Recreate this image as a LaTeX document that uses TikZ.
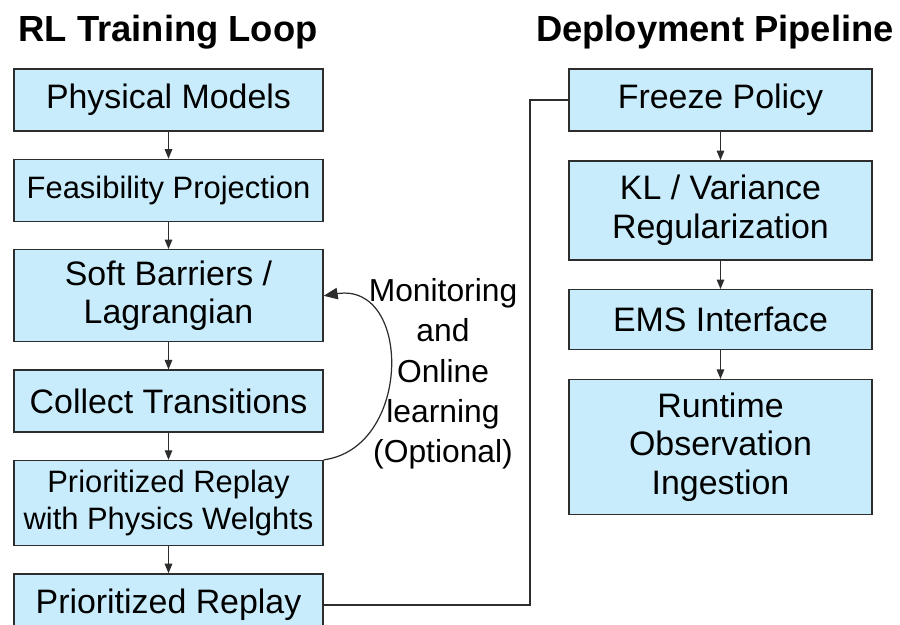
\documentclass[tikz,border=0pt]{standalone}
\usepackage{fontspec}
\setmainfont{Liberation Sans}
\usepackage{tikz}
\usetikzlibrary{arrows.meta, positioning}
\definecolor{boxblue}{RGB}{200,236,251}
\definecolor{edgegray}{RGB}{45,45,45}

\begin{document}
\begin{tikzpicture}[
    x=0.02cm, y=-0.02cm,
    node distance=0.54cm,
    box/.style={rectangle, draw=edgegray, line width=0.8pt, fill=boxblue,
                minimum width=6.18cm, minimum height=1.24cm, inner sep=2pt,
                align=center, font=\fontsize{19.3}{22}\selectfont},
    rbox/.style={box, minimum width=6.06cm},
    smalltext/.style={font=\fontsize{17.6}{21.5}\selectfont},
    title/.style={anchor=base, font=\fontsize{20.7}{24}\selectfont\bfseries},
    note/.style={align=center, font=\fontsize{18.1}{22.9}\selectfont},
    arr/.style={-{Triangle[length=0.19cm, width=0.15cm]}, line width=0.7pt, edgegray},
    loopback/.style={-{Triangle[length=0.28cm, width=0.23cm]}, line width=0.7pt, edgegray},
    link/.style={line width=0.7pt, edgegray},
]
\useasboundingbox (0,0) rectangle (900,625);
\clip (0,0) rectangle (900,625);

\node[title] (lt) at (168,42) {RL Training Loop};
\node[title] (rt) at (715,42) {Deployment Pipeline};

\node[box] (phys) at (168.5,100) {Physical Models};
\node[box, smalltext, below=of phys] (feas) {Feasibility Projection};
\node[box, below=of feas, minimum height=1.84cm] (soft) {Soft Barriers /\\Lagrangian};
\node[box, below=of soft] (coll) {Collect Transitions};
\node[box, smalltext, below=of coll, minimum height=1.7cm] (prw) {Prioritized Replay\\with Physics Welghts};
\node[box, below=of prw] (prio) {Prioritized Replay};

\node[rbox] (freeze) at (720.5,100) {Freeze Policy};
\node[rbox, below=0.57cm of freeze, minimum height=1.98cm] (kl) {KL / Variance\\Regularization};
\node[rbox, below=0.57cm of kl, minimum height=1.2cm] (ems) {EMS Interface};
\node[rbox, below=0.57cm of ems, minimum height=2.7cm] (runtime) {Runtime\\Observation\\Ingestion};

\node[note] (mon) at (443,374) {Monitoring\\and\\Online\\learning\\(Optional)};

\draw[arr] (phys) -- (feas);
\draw[arr] (feas) -- (soft);
\draw[arr] (soft) -- (coll);
\draw[arr] (coll) -- (prw);
\draw[arr] (prw) -- (prio);

\draw[arr] (freeze) -- (kl);
\draw[arr] (kl) -- (ems);
\draw[arr] (ems) -- (runtime);

\draw[loopback] (prw.north east) .. controls (412,448) and (412,282) .. (soft.east);

\coordinate (gap) at (530,100);
\draw[link] (prio.east) -| (gap) -- (freeze.west);

\end{tikzpicture}
\end{document}
